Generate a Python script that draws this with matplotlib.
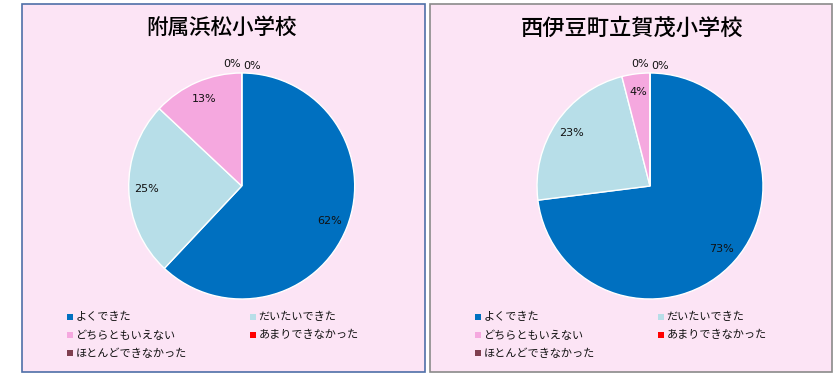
import matplotlib
matplotlib.use("Agg")
import matplotlib.pyplot as plt
from matplotlib.patches import Rectangle

plt.rcParams['font.family'] = ['Noto Sans CJK JP', 'DejaVu Sans']

categories = ["よくできた", "だいたいできた", "どちらともいえない", "あまりできなかった", "ほとんどできなかった"]
colors = ["#0070C0", "#B7DEE8", "#F5A8DF", "#FF0000", "#7F3F4F"]
titles = ["附属浜松小学校", "西伊豆町立賀茂小学校"]
values_left = [62, 25, 13, 0, 0]
values_right = [73, 23, 4, 0, 0]
series = [values_left, values_right]

W, H = 838, 376
fig = plt.figure(figsize=(W / 100, H / 100), dpi=100)
fig.patch.set_facecolor("white")

def fx(px):
    return px / W

def fy(py):
    return 1 - py / H

panels = [
    dict(x0=22, x1=425, edge="#4F6FA8", cx=241.7, title_x=222, title_size=15.5),
    dict(x0=430, x1=832, edge="#8A8A8A", cx=650, title_x=632, title_size=16),
]
y0, y1 = 4, 372
cy = 186
R = 113
lim = 1.25

for p, vals, title in zip(panels, series, titles):
    fig.add_artist(Rectangle((fx(p["x0"]), fy(y1)), fx(p["x1"] - p["x0"]), (y1 - y0) / H,
                             transform=fig.transFigure, facecolor="#FCE4F5",
                             edgecolor=p["edge"], linewidth=1.2, zorder=0))
    size = 2 * lim * R
    ax = fig.add_axes([fx(p["cx"] - size / 2), fy(cy + size / 2), fx(size), size / H])
    ax.set_facecolor("none")
    wedges, texts = ax.pie(vals, colors=colors, startangle=90, counterclock=False,
                           radius=1, labels=[f"{v}%" for v in vals], labeldistance=0.84,
                           wedgeprops=dict(edgecolor="white", linewidth=1.0),
                           textprops=dict(fontsize=8, family="DejaVu Sans", color="#111111"))
    zero_off = [-0.085, 0.09]
    k = 0
    for t, v in zip(texts, vals):
        t.set_ha("center")
        t.set_va("center")
        if v == 0:
            t.set_position((zero_off[k % 2], 1.08 - 0.015 * (k % 2)))
            k += 1
    ax.set_xlim(-lim, lim)
    ax.set_ylim(-lim, lim)
    ax.set_aspect("equal")
    ax.axis("off")

    fig.text(fx(p["title_x"]), fy(28), title, ha="center", va="center",
             fontsize=p["title_size"], fontweight="medium", color="black")

    # legend
    col_x = [p["x0"] + 45, p["x0"] + 228]
    for i, (cat, c) in enumerate(zip(categories, colors)):
        row, col = divmod(i, 2)
        yc = 317.3 + row * 18
        sx = col_x[col]
        fig.add_artist(Rectangle((fx(sx), fy(yc + 3)), fx(6), 6 / H,
                                 transform=fig.transFigure, facecolor=c,
                                 edgecolor="none", zorder=2))
        fig.text(fx(sx + 8.5), fy(yc), cat, ha="left", va="center",
                 fontsize=8, color="#111111")

fig.savefig("out.png", dpi=100, facecolor="white")
